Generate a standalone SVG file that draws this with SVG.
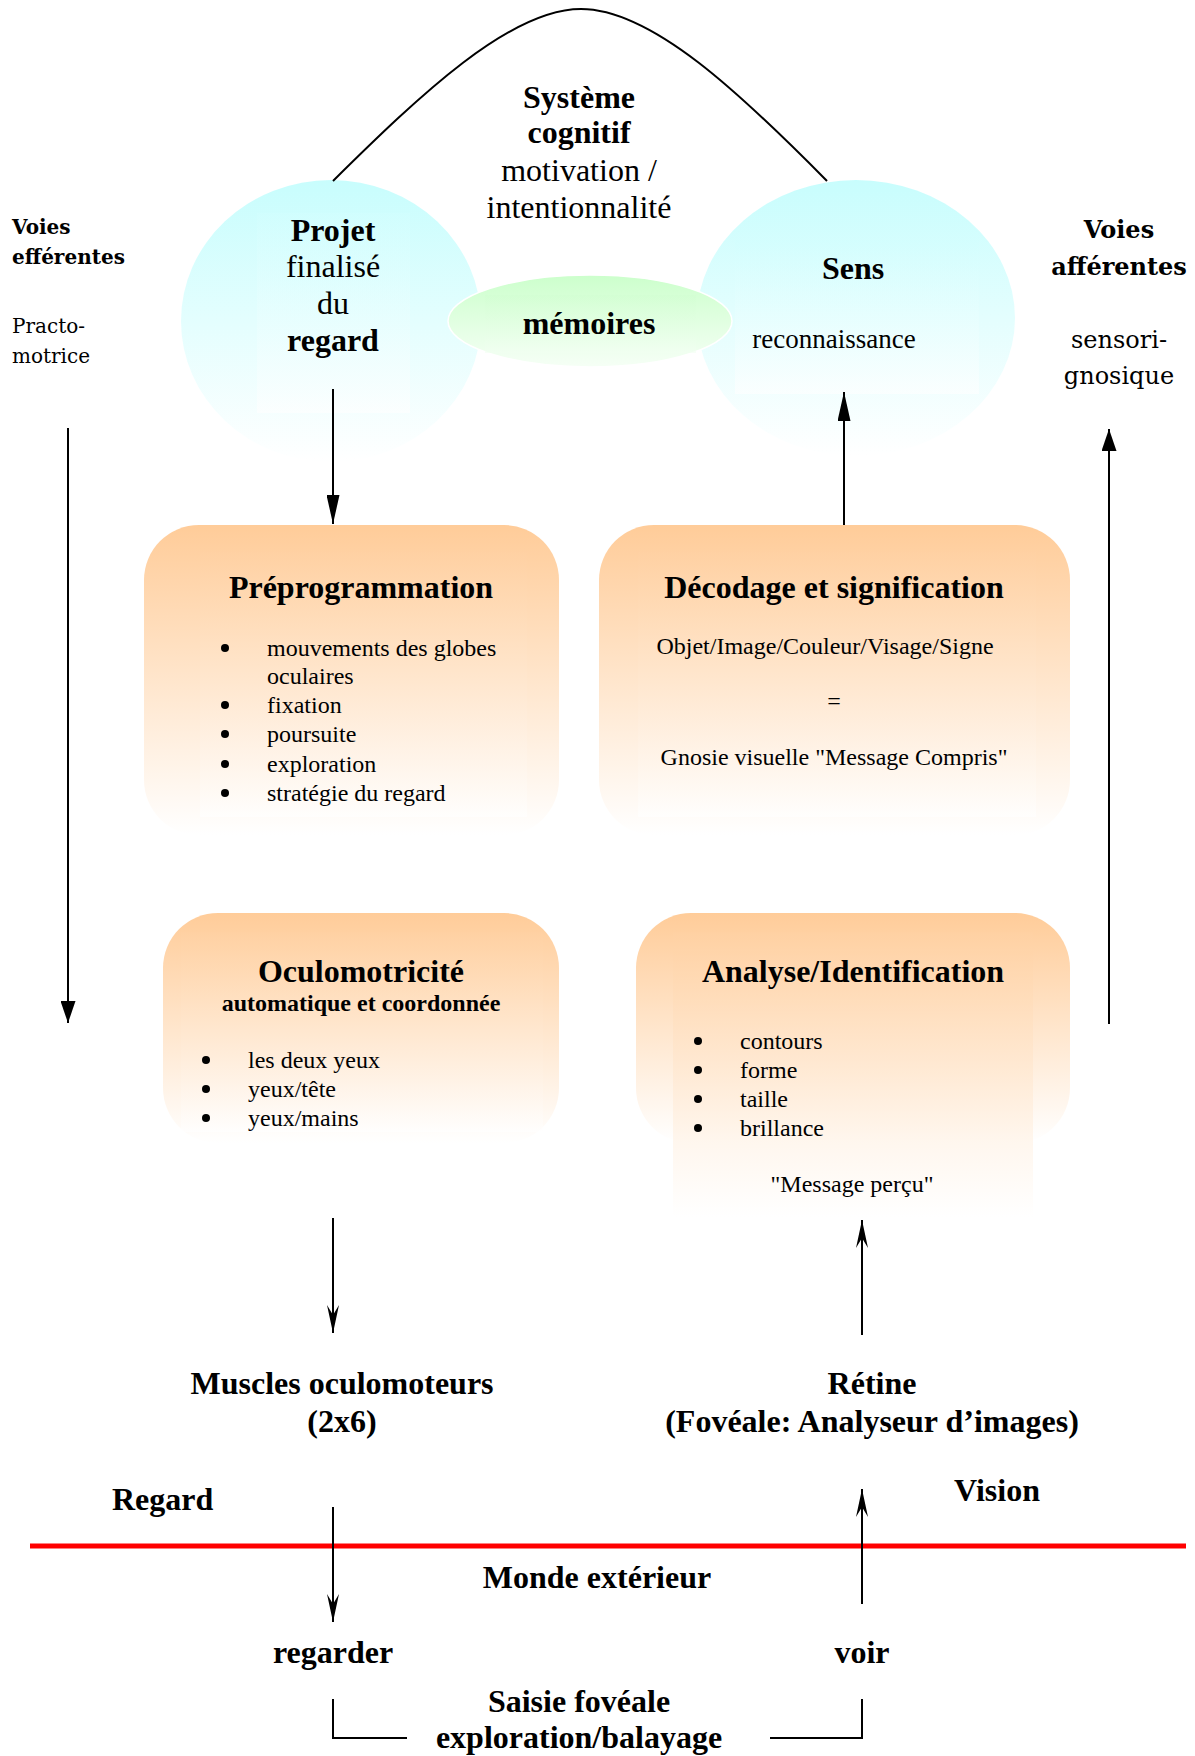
<svg xmlns="http://www.w3.org/2000/svg" width="1195" height="1756" viewBox="0 0 1195 1756">
<style>
text{font-family:"Liberation Serif","Times New Roman",serif;fill:#000}
.t32{font-size:32px}
.b{font-weight:bold}
.t24{font-size:24px}
.mid{text-anchor:middle}
.side{font-family:"DejaVu Serif",serif}
.ln{stroke:#000;stroke-width:2;fill:none}
</style>
<defs>
<linearGradient id="gCyan" x1="0" y1="0" x2="0" y2="1">
<stop offset="0" stop-color="#C8FDFD"/><stop offset="1" stop-color="#FFFFFF"/>
</linearGradient>
<linearGradient id="gCyanIn" x1="0" y1="0" x2="0" y2="1">
<stop offset="0" stop-color="#D2FEFE"/><stop offset="1" stop-color="#FFFFFF"/>
</linearGradient>
<linearGradient id="gGreen" x1="0" y1="0" x2="0" y2="1">
<stop offset="0" stop-color="#CCFFCC"/><stop offset="1" stop-color="#F6FFF6"/>
</linearGradient>
<linearGradient id="gGreenIn" x1="0" y1="0" x2="0" y2="1">
<stop offset="0" stop-color="#D2FED2"/><stop offset="1" stop-color="#F2FFF2"/>
</linearGradient>
<linearGradient id="gOr" x1="0" y1="0" x2="0" y2="1">
<stop offset="0" stop-color="#FFCC99"/><stop offset="1" stop-color="#FFFFFF"/>
</linearGradient>
<linearGradient id="gOrIn" x1="0" y1="0" x2="0" y2="1">
<stop offset="0" stop-color="#FFD1A3"/><stop offset="1" stop-color="#FFFFFF"/>
</linearGradient>
<marker id="tri" markerUnits="userSpaceOnUse" viewBox="0 0 29 13" refX="29" refY="6.5" markerWidth="29" markerHeight="13" orient="auto">
<path d="M0,0 L29,6.5 L0,13 z" fill="#000"/>
</marker>
<marker id="tri2" markerUnits="userSpaceOnUse" viewBox="0 0 22 15" refX="22" refY="7.5" markerWidth="22" markerHeight="15" orient="auto">
<path d="M0,0 L22,7.5 L0,15 z" fill="#000"/>
</marker>
<marker id="barb" markerUnits="userSpaceOnUse" viewBox="0 0 28 12" refX="28" refY="6" markerWidth="28" markerHeight="12" orient="auto">
<path d="M0,0 L28,6 L0,12 L10,6 z" fill="#000"/>
</marker>
</defs>

<g id="projet">
<ellipse cx="331" cy="321" rx="150" ry="141" fill="url(#gCyan)"/>
<rect x="257" y="213" width="153" height="200" fill="url(#gCyanIn)" opacity="0.6"/>
<text class="t32 b mid" x="333" y="241">Projet</text>
<text class="t32 mid" x="333" y="277">finalisé</text>
<text class="t32 mid" x="333" y="314">du</text>
<text class="t32 b mid" x="333" y="351">regard</text>
</g>

<g id="sens">
<ellipse cx="856" cy="318" rx="159" ry="138" fill="url(#gCyan)"/>
<rect x="735" y="240" width="244" height="154" fill="url(#gCyanIn)" opacity="0.6"/>
<text class="t32 b mid" x="853" y="279">Sens</text>
<text class="mid" style="font-size:27px" x="834" y="348">reconnaissance</text>
</g>

<g id="memoires">
<ellipse cx="590" cy="321" rx="142" ry="46" fill="url(#gGreen)" stroke="#FFFFFF" stroke-width="1.5"/>
<rect x="485" y="295" width="211" height="58" fill="url(#gGreenIn)" opacity="0.6"/>
<text class="t32 b mid" x="589" y="334">mémoires</text>
</g>

<g id="systeme">
<text class="t32 b mid" x="579" y="108">Système</text>
<text class="t32 b mid" x="579" y="143">cognitif</text>
<text class="t32 mid" x="579" y="181">motivation /</text>
<text class="t32 mid" x="579" y="218">intentionnalité</text>
</g>

<g id="voies-efferentes">
<text class="side b" style="font-size:20px" x="12" y="234">Voies</text>
<text class="side b" style="font-size:20px" x="12" y="264">efférentes</text>
<text class="side" style="font-size:20px" x="12" y="333">Practo-</text>
<text class="side" style="font-size:20px" x="12" y="363">motrice</text>
</g>

<g id="voies-afferentes">
<text class="side b mid" style="font-size:24px" x="1119" y="238">Voies</text>
<text class="side b mid" style="font-size:24px" x="1119" y="275">afférentes</text>
<text class="side mid" style="font-size:24px" x="1119" y="348">sensori-</text>
<text class="side mid" style="font-size:24px" x="1119" y="384">gnosique</text>
</g>

<g id="preprogrammation">
<rect x="144" y="525" width="415" height="310" rx="55" ry="55" fill="url(#gOr)"/>
<rect x="200" y="552" width="327" height="265" fill="url(#gOrIn)" opacity="0.6"/>
<text class="t32 b mid" x="361" y="598">Préprogrammation</text>
<circle cx="225" cy="648" r="4"/>
<text class="t24" x="267" y="656">mouvements des globes</text>
<text class="t24" x="267" y="684">oculaires</text>
<circle cx="225" cy="705" r="4"/>
<text class="t24" x="267" y="713">fixation</text>
<circle cx="225" cy="734" r="4"/>
<text class="t24" x="267" y="742">poursuite</text>
<circle cx="225" cy="764" r="4"/>
<text class="t24" x="267" y="772">exploration</text>
<circle cx="225" cy="793" r="4"/>
<text class="t24" x="267" y="801">stratégie du regard</text>
</g>

<g id="decodage">
<rect x="599" y="525" width="471" height="310" rx="55" ry="55" fill="url(#gOr)"/>
<rect x="638" y="552" width="398" height="265" fill="url(#gOrIn)" opacity="0.6"/>
<text class="t32 b mid" x="834" y="598">Décodage et signification</text>
<text class="t24 mid" x="825" y="654">Objet/Image/Couleur/Visage/Signe</text>
<text class="t24 mid" x="834" y="709">=</text>
<text class="t24 mid" x="834" y="765">Gnosie visuelle "Message Compris"</text>
</g>

<g id="oculomotricite">
<rect x="163" y="913" width="396" height="230" rx="55" ry="55" fill="url(#gOr)"/>
<rect x="181" y="932" width="362" height="200" fill="url(#gOrIn)" opacity="0.6"/>
<text class="t32 b mid" x="361" y="982">Oculomotricité</text>
<text class="t24 b mid" x="361" y="1011">automatique et coordonnée</text>
<circle cx="206" cy="1060" r="4"/>
<text class="t24" x="248" y="1068">les deux yeux</text>
<circle cx="206" cy="1089" r="4"/>
<text class="t24" x="248" y="1097">yeux/tête</text>
<circle cx="206" cy="1118" r="4"/>
<text class="t24" x="248" y="1126">yeux/mains</text>
</g>

<g id="analyse">
<rect x="636" y="913" width="434" height="230" rx="55" ry="55" fill="url(#gOr)"/>
<rect x="673" y="932" width="360" height="285" fill="url(#gOrIn)" opacity="0.7"/>
<text class="t32 b mid" x="853" y="982">Analyse/Identification</text>
<circle cx="698" cy="1041" r="4"/>
<text class="t24" x="740" y="1049">contours</text>
<circle cx="698" cy="1070" r="4"/>
<text class="t24" x="740" y="1078">forme</text>
<circle cx="698" cy="1099" r="4"/>
<text class="t24" x="740" y="1107">taille</text>
<circle cx="698" cy="1128" r="4"/>
<text class="t24" x="740" y="1136">brillance</text>
<text class="t24 mid" x="852" y="1192">"Message perçu"</text>
</g>

<g id="muscles">
<text class="t32 b mid" x="342" y="1394">Muscles oculomoteurs</text>
<text class="t32 b mid" x="342" y="1432">(2x6)</text>
</g>

<g id="retine">
<text class="t32 b mid" x="872" y="1394">Rétine</text>
<text class="t32 b mid" x="872" y="1432">(Fovéale: Analyseur d’images)</text>
</g>

<g id="labels-bas">
<text class="t32 b" x="112" y="1510">Regard</text>
<text class="t32 b" x="954" y="1501">Vision</text>
<text class="t32 b mid" x="597" y="1588">Monde extérieur</text>
<text class="t32 b mid" x="333" y="1663">regarder</text>
<text class="t32 b mid" x="862" y="1663">voir</text>
<text class="t32 b mid" x="579" y="1712">Saisie fovéale</text>
<text class="t32 b mid" x="579" y="1748">exploration/balayage</text>
</g>

<g id="connecteurs">
<path class="ln" d="M333,181 C420,95 510,9 581,9 C652,9 742,95 827,181"/>
<line x1="30" y1="1546" x2="1186" y2="1546" stroke="#FF0000" stroke-width="5"/>
<path class="ln" d="M333,389 L333,524" marker-end="url(#tri)"/>
<path class="ln" d="M844,525 L844,392" marker-end="url(#tri)"/>
<path class="ln" d="M68,428 L68,1023" marker-end="url(#tri2)"/>
<path class="ln" d="M1109,1024 L1109,429" marker-end="url(#tri2)"/>
<path class="ln" d="M333,1218 L333,1333" marker-end="url(#barb)"/>
<path class="ln" d="M862,1335 L862,1220" marker-end="url(#barb)"/>
<path class="ln" d="M333,1507 L333,1622" marker-end="url(#barb)"/>
<path class="ln" d="M862,1604 L862,1489" marker-end="url(#barb)"/>
<path class="ln" d="M333,1699 L333,1738 L407,1738"/>
<path class="ln" d="M770,1738 L862,1738 L862,1699"/>
</g>
</svg>
